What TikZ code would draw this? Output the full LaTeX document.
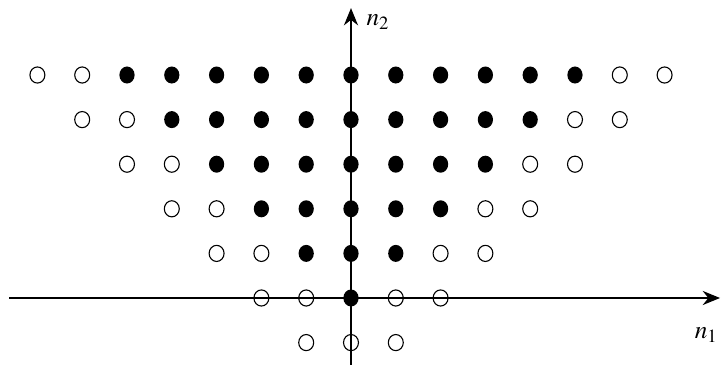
\documentclass[tikz,border=0pt]{standalone}
\usepackage{mathptmx}
\usetikzlibrary{arrows.meta}

\tikzset{
    axis/.style={line width=0.8pt, -{Stealth[length=11pt, width=9pt]}},
    dotfull/.style={fill=black},
    dotopen/.style={line width=0.7pt},
    axislabel/.style={font=\fontsize{16}{18}\selectfont}
}

\begin{document}
\begin{tikzpicture}[x=1cm, y=0.9955cm]
    \useasboundingbox (-7.835,-1.547) rectangle (8.304,6.682);
    %%% Axes
    \draw[axis] (-7.634,0) -- (8.237,0);
    \draw[axis] (0,-1.5) -- (0,6.5);
    \node[axislabel] (n1) at (7.93,-0.83) {$n_1$};
    \node[axislabel] (n2) at (0.6,6.19) {$n_2$};
    %
    %%% Filled points: |n1| <= n2
    \foreach \m in {0,...,5} {
        \foreach \k in {-\m,...,\m}
            \fill[dotfull] (\k,\m) ellipse [x radius=0.17cm, y radius=0.19cm];
    }
    %
    %%% Open points: two on each side of every row
    \foreach \m in {0,...,5} {
        \foreach \d in {1,2} {
            \draw[dotopen] ({\m+\d},\m) ellipse [x radius=0.167cm, y radius=0.18cm];
            \draw[dotopen] ({-\m-\d},\m) ellipse [x radius=0.167cm, y radius=0.18cm];
        }
    }
    \foreach \k in {-1,0,1}
        \draw[dotopen] (\k,-1) ellipse [x radius=0.167cm, y radius=0.18cm];
\end{tikzpicture}
\end{document}
